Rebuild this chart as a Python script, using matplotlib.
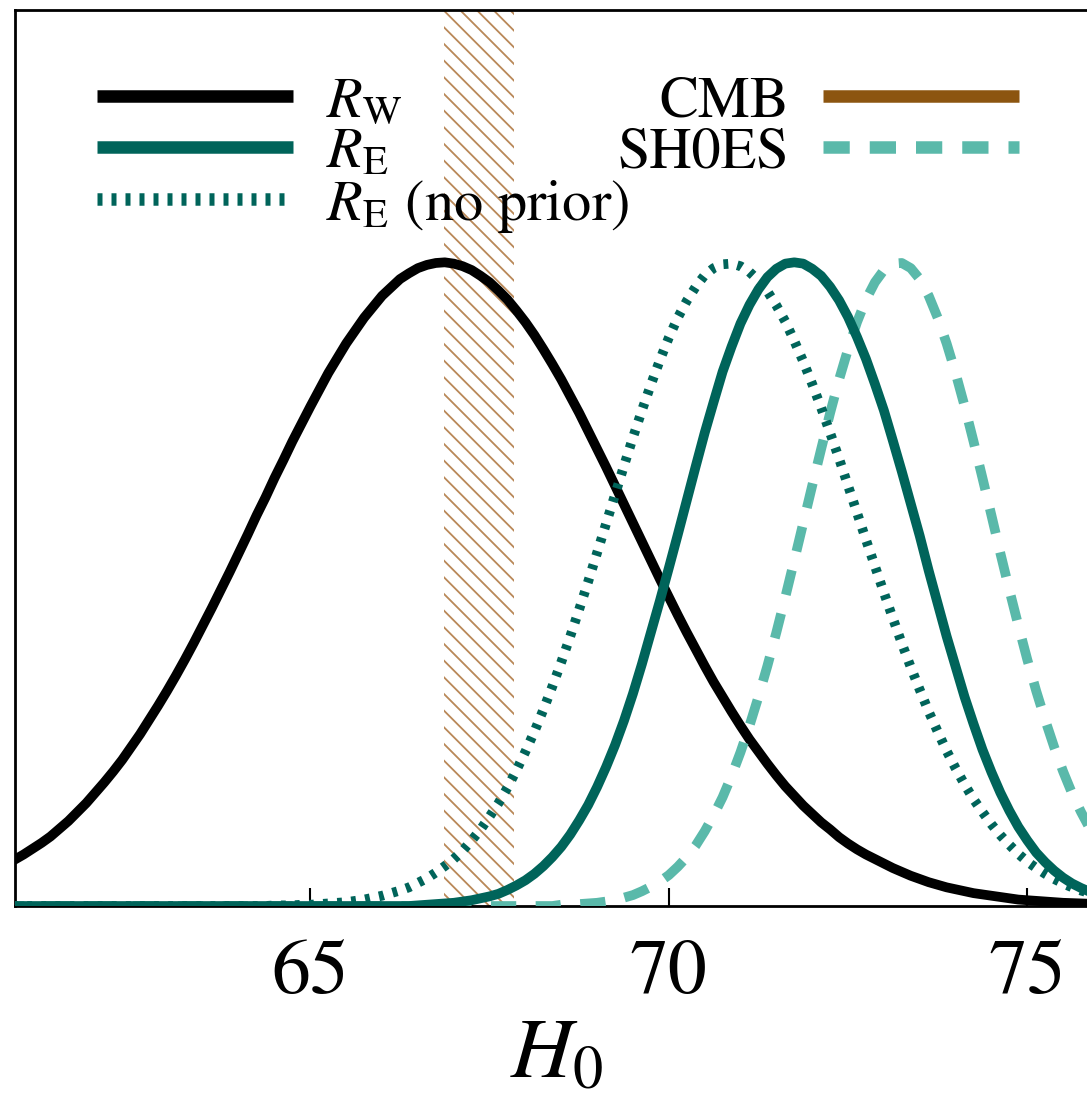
import numpy as np
import matplotlib.pyplot as plt
from matplotlib.lines import Line2D

# H0 grid the posteriors were read on (normalised to peak = 1), one row = 1 km/s/Mpc
h0_grid = np.arange(60.5, 76.01, 0.125)

rw_post = [
    0.051, 0.057, 0.064, 0.072, 0.080, 0.089, 0.098, 0.108,
    0.120, 0.132, 0.146, 0.160, 0.176, 0.192, 0.209, 0.227,
    0.247, 0.267, 0.289, 0.311, 0.334, 0.358, 0.383, 0.409,
    0.436, 0.463, 0.491, 0.519, 0.548, 0.577, 0.607, 0.635,
    0.665, 0.693, 0.722, 0.749, 0.776, 0.802, 0.828, 0.851,
    0.874, 0.894, 0.914, 0.931, 0.948, 0.961, 0.974, 0.983,
    0.991, 0.996, 0.999, 1.000, 0.998, 0.994, 0.988, 0.979,
    0.969, 0.956, 0.942, 0.925, 0.907, 0.887, 0.865, 0.842,
    0.818, 0.792, 0.766, 0.738, 0.710, 0.682, 0.653, 0.624,
    0.595, 0.566, 0.537, 0.508, 0.480, 0.452, 0.425, 0.399,
    0.373, 0.348, 0.325, 0.302, 0.280, 0.259, 0.240, 0.221,
    0.203, 0.186, 0.171, 0.156, 0.143, 0.130, 0.119, 0.107,
    0.097, 0.088, 0.080, 0.073, 0.066, 0.059, 0.053, 0.047,
    0.042, 0.037, 0.033, 0.029, 0.026, 0.023, 0.020, 0.018,
    0.016, 0.014, 0.012, 0.010, 0.009, 0.008, 0.007, 0.006,
    0.005, 0.0045, 0.004, 0.0035, 0.003]

re_post = [0.0] * 48 + [
    0.001, 0.002, 0.003, 0.004, 0.005, 0.007, 0.009, 0.012,
    0.015, 0.019, 0.025, 0.032, 0.040, 0.050, 0.062, 0.076,
    0.092, 0.111, 0.133, 0.157, 0.185, 0.216, 0.250, 0.288,
    0.330, 0.376, 0.425, 0.474, 0.525, 0.577, 0.630, 0.683,
    0.735, 0.783, 0.830, 0.869, 0.905, 0.934, 0.958, 0.977,
    0.990, 0.998, 1.000, 0.998, 0.990, 0.979, 0.962, 0.941,
    0.915, 0.884, 0.850, 0.811, 0.770, 0.723, 0.675, 0.625,
    0.575, 0.521, 0.470, 0.419, 0.372, 0.325, 0.283, 0.243,
    0.208, 0.176, 0.148, 0.123, 0.102, 0.083, 0.068, 0.055,
    0.044, 0.035, 0.028, 0.022, 0.017]

re_noprior_post = [0.0] * 32 + [
    0.001, 0.001, 0.001, 0.002, 0.002, 0.003, 0.004, 0.005,
    0.006, 0.008, 0.010, 0.013, 0.016, 0.020, 0.024, 0.029,
    0.036, 0.043, 0.052, 0.062, 0.073, 0.086, 0.102, 0.119,
    0.139, 0.160, 0.184, 0.211, 0.240, 0.271, 0.305, 0.341,
    0.379, 0.419, 0.461, 0.504, 0.549, 0.594, 0.639, 0.684,
    0.728, 0.770, 0.810, 0.848, 0.883, 0.914, 0.940, 0.962,
    0.980, 0.991, 0.997, 0.998, 0.994, 0.985, 0.972, 0.955,
    0.933, 0.908, 0.878, 0.846, 0.811, 0.774, 0.735, 0.695,
    0.653, 0.611, 0.569, 0.528, 0.487, 0.447, 0.408, 0.371,
    0.336, 0.302, 0.271, 0.241, 0.214, 0.189, 0.166, 0.146,
    0.127, 0.110, 0.095, 0.081, 0.069, 0.059, 0.050, 0.042,
    0.035, 0.029, 0.024, 0.020, 0.016]

shoes_post = [0.0] * 64 + [
    0.002, 0.002, 0.003, 0.004, 0.005, 0.007, 0.010, 0.013,
    0.017, 0.023, 0.030, 0.038, 0.048, 0.061, 0.076, 0.094,
    0.116, 0.141, 0.169, 0.202, 0.239, 0.280, 0.325, 0.373,
    0.425, 0.480, 0.537, 0.595, 0.653, 0.710, 0.766, 0.818,
    0.865, 0.907, 0.942, 0.969, 0.988, 0.998, 0.999, 0.991,
    0.974, 0.948, 0.914, 0.874, 0.828, 0.777, 0.722, 0.665,
    0.607, 0.548, 0.491, 0.436, 0.383, 0.334, 0.289, 0.247,
    0.209, 0.175, 0.146, 0.120, 0.098]

cmb_band = (66.86, 67.84)  # CMB H0 1-sigma range

tick_vals = [65, 70, 75]
left_labels = [r'$R_\mathrm{W}$', r'$R_\mathrm{E}$', r'$R_\mathrm{E}$ (no prior)']
right_labels = ['CMB', 'SH0ES']

teal = '#00645a'
light_teal = '#5ab9aa'
brown = '#8c5510'
hatch_brown = '#b98858'

plt.rcParams['font.family'] = 'STIXGeneral'
plt.rcParams['mathtext.fontset'] = 'stix'
plt.rcParams['hatch.linewidth'] = 1.3

fig = plt.figure(figsize=(10.87, 11.01), dpi=100)
ax = fig.add_axes([0.0138, 0.1771, 0.9972, 0.8138])

# CMB band, hatched
ax.axvspan(cmb_band[0], cmb_band[1], facecolor='none', edgecolor=hatch_brown,
           hatch='\\\\', linewidth=0, zorder=1)

ax.plot(h0_grid, rw_post, color='black', lw=7, zorder=3)
ax.plot(h0_grid, shoes_post, color=light_teal, lw=7, linestyle=(0, (2.6, 2.0)), zorder=4)
ax.plot(h0_grid, re_noprior_post, color=teal, lw=7, linestyle=(0, (0.5, 0.95)), zorder=5)
ax.plot(h0_grid, re_post, color=teal, lw=7, zorder=6)

ax.set_xlim(60.88, 76.0)
ax.set_ylim(0, 1.392)
ax.set_xticks(tick_vals)
ax.set_yticks([])
ax.tick_params(axis='x', direction='in', length=13, width=1.5, labelsize=56, pad=24)
ax.set_xlabel(r'$H_0$', fontsize=62, labelpad=6)
for s in ax.spines.values():
    s.set_linewidth(2)

# legend: left column handle-first, right column label-first
hkw = dict(lw=9, solid_capstyle='butt', dash_capstyle='butt')
left_handles = [Line2D([], [], color='black', **hkw),
                Line2D([], [], color=teal, **hkw),
                Line2D([], [], color=teal, linestyle=(0, (0.4, 0.72)), **hkw)]
right_handles = [Line2D([], [], color=brown, **hkw),
                 Line2D([], [], color=light_teal, linestyle=(0, (2.1, 1.6)), **hkw)]

leg_kw = dict(frameon=False, fontsize=42, handlelength=3.36, handletextpad=0.57,
              labelspacing=-0.05, borderpad=0, borderaxespad=0)
leg1 = ax.legend(left_handles, left_labels, loc='upper left',
                 bbox_to_anchor=(0.0757, 0.9265), **leg_kw)
ax.add_artist(leg1)
ax.legend(right_handles, right_labels, loc='upper right', markerfirst=False,
          bbox_to_anchor=(0.926, 0.9265), **leg_kw)

fig.savefig('out.png', dpi=100)
